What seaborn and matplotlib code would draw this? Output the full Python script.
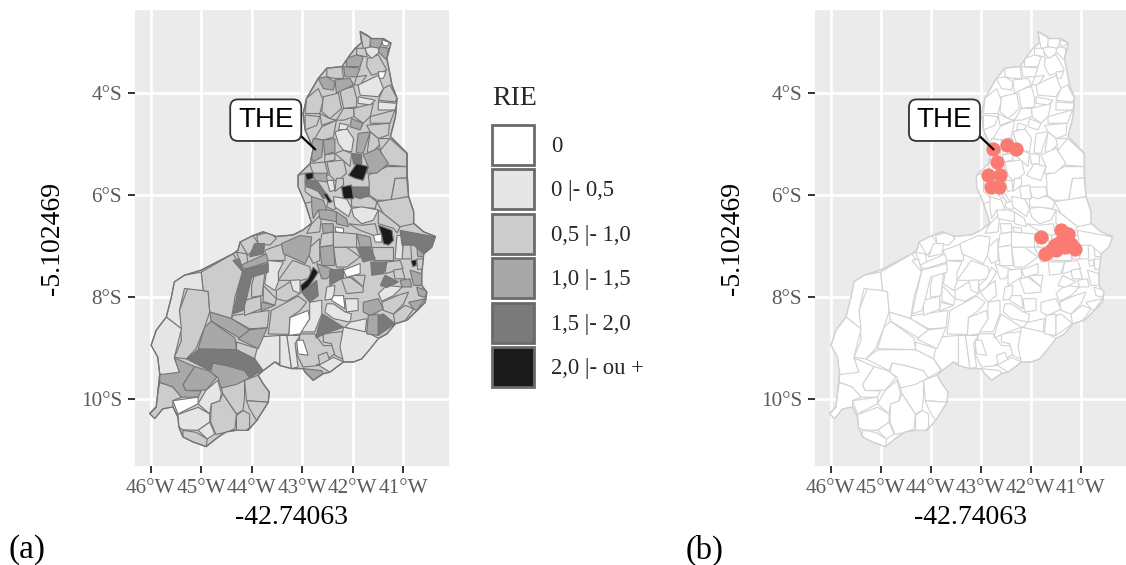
import matplotlib
matplotlib.use("Agg")
import matplotlib.pyplot as plt
import seaborn as sns
import pandas as pd
from matplotlib.patches import Patch, Polygon

# Piaui outline, lon/lat
contorno = [(-41.85, -2.79), (-41.72, -2.86), (-41.62, -2.93), (-41.39, -2.93), (-41.24, -3.02), (-41.32, -3.32),
            (-41.25, -3.68), (-41.22, -3.84), (-41.12, -4.10), (-41.15, -4.46), (-41.25, -4.85), (-41.12, -4.98),
            (-40.92, -5.18), (-40.92, -5.57), (-40.89, -6.03), (-40.79, -6.32), (-40.79, -6.55), (-40.59, -6.72),
            (-40.36, -6.81), (-40.43, -7.02), (-40.59, -7.15), (-40.63, -7.54), (-40.63, -7.77), (-40.53, -7.90),
            (-40.56, -8.10), (-40.72, -8.26), (-40.92, -8.45), (-41.15, -8.52), (-41.32, -8.72), (-41.49, -8.81),
            (-41.65, -9.01), (-41.82, -9.21), (-41.98, -9.27), (-42.18, -9.27), (-42.45, -9.47), (-42.58, -9.50),
            (-42.78, -9.63), (-42.94, -9.47), (-42.98, -9.40), (-43.21, -9.40), (-43.44, -9.34), (-43.54, -9.27),
            (-43.77, -9.44), (-43.87, -9.53), (-43.77, -9.70), (-43.65, -9.86), (-43.67, -10.06), (-43.90, -10.42),
            (-44.07, -10.61), (-44.30, -10.61), (-44.50, -10.64), (-44.66, -10.74), (-44.90, -10.93), (-45.16, -10.84),
            (-45.36, -10.74), (-45.44, -10.55), (-45.46, -10.35), (-45.56, -10.15), (-45.76, -10.19), (-45.92, -10.38),
            (-46.02, -10.28), (-45.89, -10.15), (-45.86, -9.89), (-45.82, -9.50), (-45.86, -9.17), (-45.99, -8.94),
            (-45.89, -8.65), (-45.69, -8.39), (-45.59, -8.00), (-45.53, -7.70), (-45.33, -7.57), (-45.00, -7.47),
            (-44.37, -7.15), (-44.27, -7.08), (-44.23, -6.92), (-43.97, -6.79), (-43.77, -6.72), (-43.51, -6.81),
            (-43.18, -6.78), (-42.98, -6.68), (-42.81, -6.55), (-42.94, -6.16), (-43.08, -5.83), (-43.08, -5.61),
            (-42.84, -5.38), (-42.78, -5.08), (-42.94, -4.72), (-42.98, -4.40), (-42.91, -4.10), (-42.68, -3.71),
            (-42.51, -3.51), (-42.21, -3.48), (-42.08, -3.29), (-41.95, -3.12), (-41.82, -3.01)]

# municipalities by RIE class
rie_05_10 = [
    [(-45.26, -7.81), (-44.86, -7.89), (-44.83, -8.29), (-44.93, -8.59), (-45.10, -9.01), (-45.29, -9.21), (-45.53, -9.18), (-45.39, -8.85), (-45.43, -8.26)],
    [(-45.00, -7.51), (-44.37, -7.15), (-44.17, -7.47), (-44.33, -8.00), (-44.40, -8.42), (-44.83, -8.29), (-44.86, -7.89), (-44.96, -7.87)],
    [(-45.82, -9.67), (-45.56, -9.76), (-45.39, -9.96), (-45.56, -10.03), (-45.56, -10.16), (-45.76, -10.19), (-45.92, -10.39), (-46.02, -10.29), (-45.89, -10.16), (-45.86, -9.89)],
    [(-45.36, -10.61), (-45.10, -10.65), (-44.88, -10.78), (-44.90, -10.93), (-45.16, -10.84), (-45.36, -10.74)],
    [(-44.80, -10.09), (-44.63, -10.03), (-44.57, -9.89), (-44.30, -10.29), (-44.33, -10.58), (-44.50, -10.65), (-44.71, -10.69), (-44.81, -10.45)],
    [(-44.60, -9.78), (-44.14, -9.63), (-44.14, -9.96), (-44.17, -10.22), (-44.30, -10.29), (-44.57, -9.89)],
    [(-44.14, -9.63), (-43.87, -9.53), (-43.77, -9.70), (-43.65, -9.86), (-43.67, -10.06), (-44.10, -10.03)],
    [(-44.10, -10.03), (-43.67, -10.06), (-43.90, -10.42), (-44.04, -10.19)],
    [(-44.30, -10.32), (-44.17, -10.22), (-44.04, -10.29), (-44.04, -10.55), (-44.14, -10.65), (-44.30, -10.60)],
    [(-43.04, -8.72), (-42.75, -8.72), (-42.58, -8.95), (-42.38, -8.95), (-42.35, -9.11), (-42.68, -9.34), (-42.98, -9.37), (-43.11, -9.11)],
    [(-42.58, -8.72), (-42.18, -8.67), (-42.15, -9.24), (-42.35, -9.14), (-42.42, -8.91), (-42.58, -8.88)],
    [(-42.68, -9.14), (-42.51, -9.08), (-42.45, -9.24), (-42.65, -9.34)],
    [(-43.67, -8.72), (-43.61, -8.26), (-43.08, -7.98), (-42.91, -8.10), (-43.04, -8.26), (-43.24, -8.40), (-43.26, -8.73)],
    [(-44.40, -8.42), (-44.37, -8.36), (-43.65, -8.26), (-43.69, -8.60), (-44.04, -8.62)],
    [(-44.30, -8.88), (-43.87, -9.01), (-43.94, -9.21), (-44.30, -9.03)],
    [(-43.94, -7.54), (-43.74, -7.54), (-43.79, -7.97), (-44.00, -8.00), (-44.00, -7.77)],
    [(-44.14, -8.06), (-43.82, -7.98), (-43.81, -8.23), (-44.14, -8.36)],
    [(-43.77, -7.77), (-43.51, -8.03), (-43.54, -8.16), (-43.77, -8.08)],
    [(-43.51, -7.87), (-43.24, -7.70), (-43.04, -7.93), (-43.31, -8.08), (-43.51, -8.03)],
    [(-43.47, -7.67), (-43.19, -7.28), (-42.85, -7.40), (-42.81, -7.61), (-43.11, -7.70), (-43.28, -7.67)],
    [(-43.74, -7.08), (-43.37, -6.95), (-43.34, -7.18), (-43.34, -7.28), (-43.71, -7.28)],
    [(-44.30, -7.12), (-44.10, -7.15), (-44.07, -7.34), (-44.20, -7.38)],
    [(-44.23, -6.92), (-43.97, -6.79), (-43.87, -6.95), (-44.07, -7.18)],
    [(-43.90, -6.79), (-43.64, -6.72), (-43.51, -6.85), (-43.64, -6.98), (-43.87, -6.95)],
    [(-42.91, -7.08), (-42.65, -6.85), (-42.65, -7.28), (-42.78, -7.34)],
    [(-42.38, -7.02), (-42.12, -7.02), (-41.85, -7.21), (-42.12, -7.41), (-42.32, -7.41)],
    [(-42.22, -7.64), (-42.05, -7.61), (-41.79, -7.80), (-41.79, -7.90), (-42.12, -7.93)],
    [(-42.05, -7.57), (-41.75, -7.57), (-41.79, -7.80)],
    [(-41.42, -8.10), (-41.12, -7.97), (-40.89, -7.90), (-40.99, -8.13), (-41.19, -8.33), (-41.39, -8.26)],
    [(-41.19, -8.33), (-40.96, -8.16), (-40.79, -8.23), (-40.96, -8.46), (-41.16, -8.52)],
    [(-41.32, -7.31), (-41.06, -7.28), (-41.00, -7.44), (-41.36, -7.54)],
    [(-41.19, -7.47), (-41.02, -7.44), (-40.96, -7.64), (-41.16, -7.64)],
    [(-40.73, -7.25), (-40.56, -7.25), (-40.59, -7.44), (-40.71, -7.46)],
    [(-40.99, -6.79), (-40.86, -6.79), (-40.83, -7.25), (-41.02, -7.25)],
    [(-41.62, -7.02), (-41.19, -7.02), (-41.19, -7.28), (-41.59, -7.28)],
    [(-42.61, -6.76), (-42.38, -6.72), (-42.38, -6.98), (-42.65, -7.02)],
    [(-42.38, -6.72), (-41.92, -6.76), (-41.92, -7.02), (-42.38, -7.02)],
    [(-41.85, -2.80), (-41.62, -2.93), (-41.67, -3.12), (-41.79, -3.12), (-41.82, -2.96)],
    [(-41.92, -3.12), (-41.75, -3.12), (-41.71, -3.29), (-41.92, -3.25)],
    [(-41.71, -3.32), (-41.49, -3.25), (-41.32, -3.55), (-41.62, -3.65), (-41.72, -3.48)],
    [(-42.51, -3.51), (-42.21, -3.48), (-42.18, -3.71), (-42.35, -3.71), (-42.51, -3.68)],
    [(-41.92, -3.68), (-41.72, -3.65), (-41.85, -3.84), (-41.97, -3.84)],
    [(-42.91, -4.10), (-42.68, -3.91), (-42.58, -4.14), (-42.65, -4.40), (-42.94, -4.40)],
    [(-42.58, -4.07), (-42.28, -4.00), (-42.22, -4.30), (-42.45, -4.50), (-42.61, -4.36)],
    [(-42.25, -3.94), (-41.98, -3.87), (-41.92, -4.10), (-41.92, -4.27), (-42.18, -4.30)],
    [(-41.39, -3.91), (-41.26, -3.84), (-41.12, -4.10), (-41.16, -4.17), (-41.49, -4.14)],
    [(-41.98, -4.30), (-41.59, -4.20), (-41.65, -4.46), (-41.79, -4.59), (-41.97, -4.46)],
    [(-41.65, -4.46), (-41.16, -4.33), (-41.26, -4.59), (-41.65, -4.59)],
    [(-41.72, -4.63), (-41.27, -4.59), (-41.29, -4.82), (-41.49, -4.89), (-41.65, -4.76)],
    [(-42.94, -4.72), (-42.71, -4.63), (-42.65, -4.46), (-42.94, -4.43)],
    [(-42.75, -4.89), (-42.61, -4.66), (-42.32, -4.53), (-42.38, -4.86), (-42.58, -4.92)],
    [(-42.65, -4.40), (-42.45, -4.50), (-42.32, -4.53), (-42.61, -4.63)],
    [(-42.18, -4.30), (-41.98, -4.30), (-41.97, -4.46), (-42.18, -4.53), (-42.32, -4.53)],
    [(-41.65, -4.76), (-41.49, -4.89), (-41.45, -4.99), (-41.62, -5.18), (-41.71, -5.15)],
    [(-41.49, -4.89), (-41.26, -4.89), (-41.29, -5.38), (-41.45, -5.12)],
    [(-41.26, -4.89), (-40.93, -5.18), (-40.93, -5.44), (-41.32, -5.41), (-41.45, -5.12)],
    [(-41.16, -5.67), (-40.93, -5.66), (-40.89, -6.03), (-41.24, -6.10)],
    [(-41.69, -5.61), (-41.32, -5.44), (-40.93, -5.44), (-40.93, -5.66), (-41.16, -5.67), (-41.24, -6.10), (-41.52, -6.10), (-41.67, -6.00), (-41.67, -5.77)],
    [(-41.52, -6.13), (-40.89, -6.03), (-40.79, -6.33), (-40.79, -6.56), (-41.06, -6.62), (-41.39, -6.36)],
    [(-42.51, -5.35), (-42.18, -5.31), (-42.12, -5.57), (-42.32, -5.74), (-42.45, -5.61)],
    [(-42.35, -5.18), (-42.18, -5.12), (-42.02, -5.18), (-42.05, -5.44), (-42.15, -5.35)],
    [(-42.55, -5.21), (-42.35, -5.18), (-42.35, -5.31), (-42.55, -5.35)],
    [(-42.85, -5.38), (-42.55, -5.35), (-42.48, -5.61), (-42.78, -5.59)],
    [(-43.08, -5.61), (-42.94, -5.57), (-42.94, -5.93), (-42.81, -6.03), (-42.81, -6.13), (-42.94, -6.16), (-43.08, -5.84)],
    [(-42.32, -5.67), (-42.18, -5.67), (-42.18, -5.80), (-42.35, -5.93)],
    [(-42.48, -6.10), (-42.35, -6.13), (-42.28, -6.23), (-42.38, -6.29), (-42.51, -6.23)],
    [(-42.02, -6.03), (-41.65, -6.03), (-41.52, -6.13), (-41.55, -6.26), (-42.02, -6.23)],
    [(-42.81, -6.56), (-42.61, -6.36), (-42.65, -6.72), (-42.91, -6.75)],
    [(-42.08, -6.56), (-41.82, -6.59), (-41.55, -6.56), (-41.49, -6.82), (-41.85, -6.69)],
    [(-41.39, -6.36), (-41.06, -6.62), (-41.12, -6.74), (-41.19, -6.65), (-41.49, -6.56), (-41.49, -6.29)],
]

rie_00_05 = [
    [(-45.00, -7.51), (-45.33, -7.57), (-45.53, -7.70), (-45.59, -8.00), (-45.69, -8.39), (-45.39, -8.62), (-45.43, -8.26), (-45.33, -7.83), (-44.96, -7.87)],
    [(-45.69, -8.39), (-45.89, -8.65), (-45.99, -8.95), (-45.86, -9.18), (-45.82, -9.50), (-45.69, -9.55), (-45.43, -9.47), (-45.53, -9.18), (-45.39, -8.62)],
    [(-45.06, -10.09), (-44.90, -9.82), (-44.67, -9.63), (-44.60, -9.89), (-44.63, -10.03), (-44.80, -10.09), (-44.83, -10.29)],
    [(-45.46, -10.30), (-45.06, -10.16), (-44.83, -10.29), (-44.83, -10.45), (-45.06, -10.61), (-45.36, -10.60), (-45.44, -10.55)],
    [(-44.83, -10.45), (-44.73, -10.68), (-44.88, -10.78), (-45.06, -10.61)],
    [(-43.84, -8.78), (-43.44, -8.75), (-43.44, -9.31), (-43.54, -9.27), (-43.77, -9.44), (-43.94, -9.21)],
    [(-43.44, -8.75), (-43.30, -8.75), (-43.21, -9.40), (-43.44, -9.34)],
    [(-43.30, -8.75), (-43.04, -8.75), (-43.14, -8.91), (-43.08, -9.37), (-43.21, -9.40)],
    [(-42.18, -8.59), (-41.79, -8.65), (-41.46, -8.82), (-41.82, -9.21), (-41.98, -9.27), (-42.18, -9.27), (-42.25, -8.98)],
    [(-42.71, -9.31), (-42.45, -9.47), (-42.18, -9.27), (-42.38, -9.18), (-42.68, -9.34)],
    [(-42.85, -8.10), (-42.61, -8.06), (-42.61, -8.33), (-42.75, -8.68), (-43.04, -8.68), (-42.85, -8.42)],
    [(-43.69, -7.28), (-43.37, -7.31), (-43.47, -7.51), (-43.47, -7.70), (-43.54, -7.87), (-43.74, -7.74), (-43.71, -7.54)],
    [(-43.24, -7.67), (-43.04, -7.66), (-43.04, -7.93), (-43.18, -7.87)],
    [(-42.51, -7.80), (-42.35, -7.77), (-42.38, -8.03), (-42.55, -8.06)],
    [(-42.15, -8.03), (-41.89, -8.03), (-41.89, -8.26), (-42.12, -8.29)],
    [(-42.51, -8.13), (-42.38, -8.13), (-42.15, -8.29), (-42.02, -8.33), (-42.05, -8.49), (-42.38, -8.42), (-42.55, -8.29)],
    [(-42.05, -8.49), (-41.72, -8.42), (-41.75, -8.68), (-42.15, -8.59)],
    [(-41.49, -7.93), (-41.32, -7.77), (-41.02, -7.80), (-41.19, -7.97), (-41.42, -8.08)],
    [(-41.12, -6.79), (-40.99, -6.79), (-41.02, -7.25), (-41.16, -7.25)],
    [(-42.38, -6.03), (-42.12, -6.07), (-42.02, -6.26), (-42.08, -6.42), (-42.35, -6.23)],
    [(-42.02, -6.26), (-41.82, -6.23), (-41.49, -6.29), (-41.59, -6.49), (-41.82, -6.56), (-41.98, -6.42)],
    [(-42.35, -4.76), (-42.12, -4.69), (-41.98, -4.89), (-42.02, -5.15), (-42.18, -5.12), (-42.28, -4.99)],
    [(-42.25, -4.59), (-42.08, -4.63), (-42.12, -4.71), (-42.28, -4.72)],
    [(-41.75, -3.12), (-41.52, -3.06), (-41.46, -3.19), (-41.62, -3.32), (-41.72, -3.22)],
    [(-41.89, -3.84), (-41.49, -3.65), (-41.39, -3.91), (-41.49, -4.07), (-41.85, -4.04)],
    [(-41.89, -4.07), (-41.55, -4.14), (-41.65, -4.23), (-41.89, -4.20)],
    [(-41.49, -4.17), (-41.12, -4.20), (-41.16, -4.33), (-41.49, -4.33)],
    [(-42.51, -5.71), (-42.38, -5.71), (-42.35, -5.90), (-42.45, -5.93)],
]

rie_10_15 = [
    [(-44.83, -8.29), (-44.40, -8.42), (-44.04, -8.64), (-44.24, -8.80), (-44.80, -8.47)],
    [(-44.80, -8.47), (-44.33, -8.80), (-44.30, -9.03), (-45.06, -9.01), (-44.93, -8.59)],
    [(-45.13, -9.36), (-44.83, -9.45), (-44.69, -9.57), (-44.90, -9.82), (-45.31, -9.83), (-45.36, -9.71)],
    [(-44.77, -9.29), (-44.50, -9.34), (-44.14, -9.44), (-44.04, -9.58), (-44.30, -9.71), (-44.60, -9.78), (-44.67, -9.57), (-44.81, -9.47)],
    [(-45.53, -9.19), (-45.13, -9.36), (-45.36, -9.71), (-45.31, -9.83), (-45.00, -9.84), (-45.06, -9.96), (-45.39, -9.96), (-45.56, -9.76), (-45.82, -9.67), (-45.82, -9.52), (-45.43, -9.47)],
    [(-42.98, -9.40), (-42.61, -9.44), (-42.58, -9.50), (-42.78, -9.63), (-42.94, -9.47)],
    [(-44.04, -8.64), (-43.69, -8.60), (-43.87, -9.01), (-44.27, -8.82)],
    [(-43.81, -8.10), (-43.54, -8.16), (-43.81, -8.27)],
    [(-43.41, -6.95), (-43.04, -6.79), (-42.81, -6.82), (-42.85, -7.15), (-42.94, -7.34), (-43.14, -7.25), (-43.37, -7.15)],
    [(-44.24, -7.41), (-44.14, -7.34), (-43.71, -7.15), (-43.67, -7.31), (-44.10, -7.44)],
    [(-42.71, -7.34), (-42.35, -7.47), (-42.51, -7.64), (-42.61, -7.64)],
    [(-42.65, -7.02), (-42.38, -6.98), (-42.35, -7.38), (-42.61, -7.38)],
    [(-41.79, -8.10), (-41.49, -8.03), (-41.39, -8.23), (-41.65, -8.36), (-41.79, -8.29)],
    [(-41.69, -8.36), (-41.49, -8.33), (-41.49, -8.75), (-41.72, -8.72)],
    [(-40.89, -8.10), (-40.56, -8.03), (-40.73, -8.26), (-40.79, -8.23)],
    [(-40.86, -7.47), (-40.63, -7.54), (-40.63, -7.77), (-40.79, -7.77)],
    [(-41.06, -7.67), (-40.86, -7.64), (-40.83, -7.80), (-41.02, -7.80)],
    [(-40.73, -7.80), (-40.53, -7.87), (-40.56, -8.00), (-40.69, -7.97)],
    [(-40.73, -6.98), (-40.43, -7.02), (-40.59, -7.21), (-40.71, -7.20)],
    [(-41.92, -6.76), (-41.65, -6.82), (-41.62, -7.02), (-41.85, -7.02)],
    [(-41.79, -5.21), (-41.49, -5.08), (-41.29, -5.38), (-41.52, -5.57), (-41.72, -5.57), (-41.69, -5.44)],
    [(-42.68, -6.23), (-42.32, -6.33), (-42.32, -6.52), (-42.65, -6.46)],
    [(-42.61, -6.56), (-42.38, -6.56), (-42.38, -6.72), (-42.58, -6.75)],
    [(-42.78, -4.89), (-42.58, -4.92), (-42.61, -5.25), (-42.78, -5.35), (-42.85, -5.18)],
    [(-42.58, -4.92), (-42.35, -4.89), (-42.35, -5.15), (-42.55, -5.21)],
    [(-41.89, -4.79), (-41.65, -4.76), (-41.79, -5.18), (-41.93, -5.17)],
    [(-42.02, -4.50), (-41.79, -4.59), (-41.85, -4.72), (-42.05, -4.66)],
    [(-41.65, -2.93), (-41.39, -2.93), (-41.46, -3.12), (-41.65, -3.09)],
    [(-41.46, -3.09), (-41.29, -3.12), (-41.32, -3.35), (-41.49, -3.19)],
    [(-42.12, -3.32), (-41.92, -3.25), (-41.79, -3.29), (-41.85, -3.48), (-42.12, -3.48)],
    [(-42.18, -3.48), (-41.85, -3.51), (-41.92, -3.68), (-42.15, -3.68)],
    [(-42.68, -3.71), (-42.51, -3.68), (-42.35, -3.78), (-42.38, -3.94), (-42.58, -3.91)],
    [(-42.35, -3.74), (-42.05, -3.71), (-41.98, -3.84), (-42.32, -4.00)],
    [(-42.78, -5.57), (-42.51, -5.57), (-42.51, -5.74), (-42.75, -5.71)],
    [(-42.81, -6.03), (-42.58, -6.10), (-42.51, -6.29), (-42.68, -6.29), (-42.78, -6.46), (-42.81, -6.23)],
    [(-42.32, -6.33), (-42.12, -6.46), (-42.08, -6.62), (-42.32, -6.56)],
]

rie_zero = [
    [(-45.56, -10.03), (-45.06, -9.96), (-45.06, -10.09), (-45.46, -10.29)],
    [(-43.11, -8.85), (-42.98, -8.84), (-42.88, -9.14), (-43.08, -9.11)],
    [(-43.24, -8.40), (-42.88, -8.26), (-42.85, -8.42), (-43.04, -8.72), (-43.26, -8.75)],
    [(-42.18, -7.47), (-41.85, -7.34), (-41.85, -7.54), (-42.12, -7.61)],
    [(-42.38, -7.97), (-42.18, -7.97), (-42.15, -8.23), (-42.42, -8.06)],
    [(-41.59, -6.79), (-41.42, -6.76), (-41.42, -6.92), (-41.55, -6.92)],
    [(-42.35, -6.62), (-42.18, -6.65), (-42.18, -6.74), (-42.33, -6.72)],
    [(-41.42, -2.95), (-41.26, -3.01), (-41.32, -3.08), (-41.40, -3.06)],
    [(-41.49, -3.58), (-41.34, -3.58), (-41.39, -3.71), (-41.47, -3.71)],
]

rie_15_20 = [
    [(-45.06, -9.03), (-44.30, -9.03), (-43.94, -9.21), (-43.79, -9.44), (-44.04, -9.58), (-44.14, -9.44), (-44.50, -9.34), (-44.77, -9.29), (-44.83, -9.44), (-45.29, -9.21)],
    [(-44.17, -7.47), (-43.67, -7.34), (-43.67, -7.51), (-44.00, -7.61), (-44.10, -8.03), (-44.17, -8.26), (-44.37, -8.33), (-44.27, -7.87)],
    [(-44.37, -7.28), (-44.24, -7.25), (-44.17, -7.51)],
    [(-44.04, -7.21), (-43.94, -6.95), (-43.74, -6.95), (-43.77, -7.15)],
    [(-42.45, -7.47), (-42.18, -7.44), (-42.18, -7.61), (-42.45, -7.77)],
    [(-42.59, -8.33), (-42.18, -8.59), (-42.45, -8.68), (-42.73, -8.80), (-42.68, -8.59)],
    [(-43.01, -7.90), (-42.88, -7.80), (-42.71, -7.67), (-42.68, -7.97), (-42.85, -8.10)],
    [(-41.49, -8.36), (-41.39, -8.33), (-41.16, -8.52), (-41.49, -8.75)],
    [(-41.45, -7.77), (-41.36, -7.57), (-41.09, -7.70), (-41.32, -7.81)],
    [(-41.64, -7.31), (-41.32, -7.31), (-41.39, -7.54), (-41.62, -7.57)],
    [(-41.06, -6.69), (-40.36, -6.82), (-40.43, -7.02), (-40.59, -7.15), (-40.79, -6.98), (-41.02, -6.98)],
    [(-41.92, -7.02), (-41.65, -7.02), (-41.55, -7.25), (-41.79, -7.31)],
    [(-42.02, -5.18), (-41.82, -5.21), (-41.82, -5.39), (-41.98, -5.39)],
    [(-42.02, -5.84), (-41.69, -5.84), (-41.67, -6.00), (-41.85, -6.07), (-41.98, -6.03)],
    [(-42.94, -5.71), (-42.71, -5.71), (-42.48, -6.03), (-42.58, -6.07), (-42.68, -5.93), (-42.81, -5.87), (-42.91, -5.84)],
]

rie_20_mais = [
    [(-42.78, -7.41), (-42.68, -7.51), (-42.78, -7.67), (-42.88, -7.80), (-43.01, -7.90), (-43.03, -7.77), (-42.88, -7.64)],
    [(-40.84, -7.28), (-40.73, -7.27), (-40.74, -7.38), (-40.81, -7.40)],
    [(-41.49, -6.59), (-41.22, -6.69), (-41.19, -6.89), (-41.29, -6.98), (-41.39, -6.95), (-41.42, -6.79)],
    [(-41.92, -5.38), (-41.69, -5.44), (-41.79, -5.71), (-41.95, -5.67), (-42.08, -5.61)],
    [(-42.22, -5.84), (-42.02, -5.80), (-41.98, -6.07), (-42.18, -6.07)],
    [(-42.94, -5.57), (-42.78, -5.56), (-42.78, -5.67), (-42.91, -5.71)],
    [(-42.58, -5.97), (-42.51, -5.97), (-42.41, -6.13), (-42.47, -6.15)],
]

# points of panel b
pontos_lon = [-42.75, -42.47, -42.30, -42.68, -42.86, -42.61, -42.79, -42.63, -41.80, -41.71, -41.52, -41.49,
              -41.39, -41.26, -41.19, -41.12, -41.32, -41.59, -41.42, -41.29]
pontos_lat = [-5.10, -5.02, -5.10, -5.35, -5.61, -5.61, -5.84, -5.84, -6.82, -7.15, -6.98, -7.08,
              -6.69, -6.77, -6.95, -7.05, -7.02, -7.08, -6.92, -6.85]

# THE municipality
the_lon = -42.74063
the_lat = -5.102469

classes = ["0", "0 |- 0,5", "0,5 |- 1,0", "1,0 |- 1,5", "1,5 |- 2,0", "2,0 |- ou +"]
cores = ["#ffffff", "#e6e6e6", "#cccccc", "#a8a8a8", "#7a7a7a", "#1a1a1a"]
lon_ticks = [-46, -45, -44, -43, -42, -41]
lon_labels = ["46°W", "45°W", "44°W", "43°W", "42°W", "41°W"]
lat_ticks = [-4, -6, -8, -10]
lat_labels = ["4°S", "6°S", "8°S", "10°S"]

sns.set_theme(style="darkgrid", rc={"axes.facecolor": "#ebebeb", "grid.color": "white", "grid.linewidth": 1.9})
plt.rcParams['font.family'] = ['Liberation Serif', 'DejaVu Serif']


def desenha_mapa(ax, grupos, borda, base):
    contorno_patch = Polygon(contorno, closed=True, fc=base, ec=borda, lw=0.9, zorder=2)
    ax.add_patch(contorno_patch)
    for cor, grupo in grupos:
        for pol in grupo:
            xs = [p[0] for p in pol]
            ys = [p[1] for p in pol]
            for f in ax.fill(xs, ys, fc=cor, ec=borda, lw=0.8, zorder=3):
                f.set_clip_path(contorno_patch)
    # outline again, on top of the municipalities
    ax.add_patch(Polygon(contorno, closed=True, fc="none", ec=borda, lw=0.9, zorder=4))


def estilo(ax):
    ax.set_xlim(-46.31, -40.09)
    ax.set_ylim(-11.31, -2.37)
    ax.set_xticks(lon_ticks)
    ax.set_xticklabels(lon_labels)
    ax.set_yticks(lat_ticks)
    ax.set_yticklabels(lat_labels)
    ax.tick_params(length=5, width=1.4, color="#333333", labelcolor="#5a5a5a", labelsize=15.2, pad=4.5,
                   bottom=True, left=True)
    ax.set_xlabel("-42.74063", fontsize=20, color="black", labelpad=5)
    ax.set_ylabel("-5.102469", fontsize=20, color="black", labelpad=11)
    for s in ax.spines.values():
        s.set_visible(False)
    ax.annotate("THE", xy=(the_lon, the_lat), xytext=(-43.72, -4.53), ha="center", va="center", zorder=8,
                fontsize=20, family=["Liberation Sans"], color="black",
                bbox=dict(boxstyle="round,pad=0.28", fc="white", ec="#333333", lw=1.3),
                arrowprops=dict(arrowstyle="-", lw=1.6, color="black", shrinkA=0, shrinkB=0, relpos=(0.98, 0.2)))


fig = plt.figure(figsize=(11.26, 5.65), dpi=100)
ax_a = fig.add_axes([135 / 1126, 1 - 466 / 565, 314 / 1126, 456 / 565])
ax_b = fig.add_axes([815 / 1126, 1 - 466 / 565, 311 / 1126, 456 / 565])

desenha_mapa(ax_a, [(cores[2], rie_05_10), (cores[1], rie_00_05), (cores[3], rie_10_15), (cores[0], rie_zero),
                    (cores[4], rie_15_20), (cores[5], rie_20_mais)], "#757575", cores[2])
todos = rie_05_10 + rie_00_05 + rie_10_15 + rie_zero + rie_15_20 + rie_20_mais
desenha_mapa(ax_b, [("white", todos)], "#d2d2d2", "white")

df = pd.DataFrame({"lon": pontos_lon, "lat": pontos_lat})
sns.scatterplot(data=df, x="lon", y="lat", ax=ax_b, color="#fb7a72", s=105, linewidth=0, zorder=6)

estilo(ax_a)
estilo(ax_b)

handles = [Patch(fc=c, ec="#6a6a6a", lw=2) for c in cores]
leg = fig.legend(handles, classes, loc="upper left", bbox_to_anchor=(492 / 1126, 1 - 86 / 565), frameon=False,
                 fontsize=16.3, title="RIE", title_fontsize=20, alignment="left", borderpad=0, borderaxespad=0,
                 handlelength=1.85, handleheight=2.35, labelspacing=0.19, handletextpad=0.75)
leg._legend_box.sep = 10

fig.text(8 / 1126, 1 - 550 / 565, "(a)", fontsize=24, va="center", color="black")
fig.text(686 / 1126, 1 - 550 / 565, "(b)", fontsize=23.5, va="center", color="black")

fig.savefig("out.png", dpi=100, facecolor="white")
